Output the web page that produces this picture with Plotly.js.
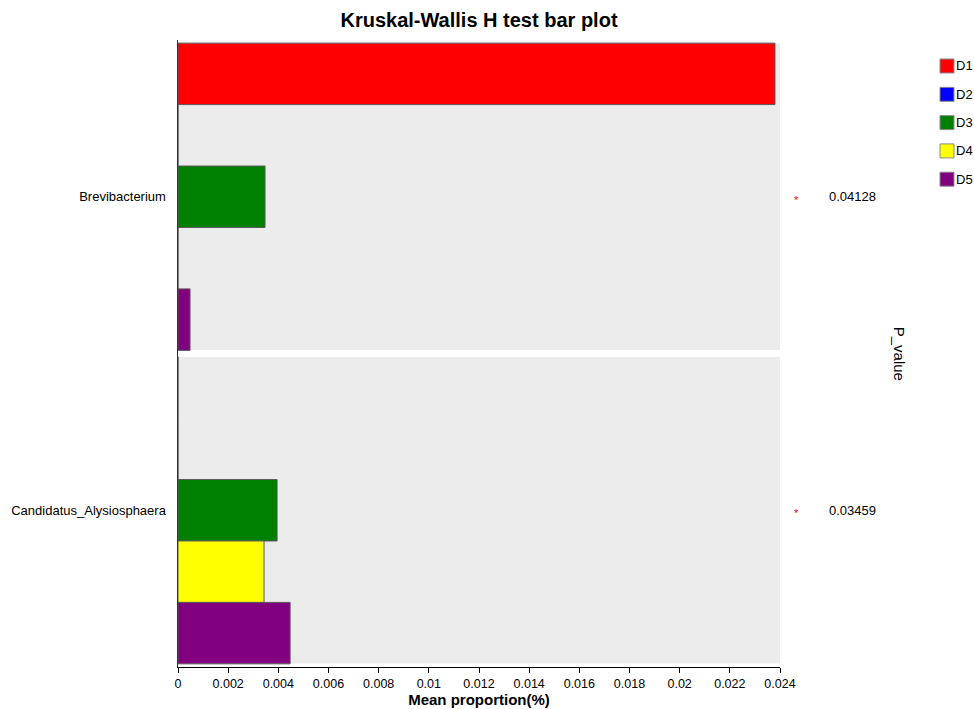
<!DOCTYPE html>
<html>
<head>
<meta charset="utf-8">
<script src="https://cdn.plot.ly/plotly-3.0.1.min.js"></script>
<style>html,body{margin:0;padding:0;background:#fff;}#chart{width:974px;height:709px;}</style>
</head>
<body>
<div id="chart"></div>
<script>
// Genera compared across groups
const taxa = ['Brevibacterium', 'Candidatus_Alysiosphaera'];
const groups = ['D1', 'D2', 'D3', 'D4', 'D5'];
const groupColors = ['#FF0000', '#0000FF', '#008000', '#FFFF00', '#800080'];

// Mean proportion (%) per group, one array per genus
const brevibacterium = [0.0238, 0, 0.00347, 0, 0.00048];
const alysiosphaera = [0, 0, 0.00395, 0.00343, 0.00447];

// Kruskal-Wallis p-values per genus
const pValues = ['0.04128', '0.03459'];
const significance = ['*', '*'];

const xTicks = [0, 0.002, 0.004, 0.006, 0.008, 0.01, 0.012, 0.014, 0.016, 0.018, 0.02, 0.022, 0.024];

const byTaxon = [brevibacterium, alysiosphaera];
const FONT = 'Liberation Sans, Arial, sans-serif';

const traces = groups.map((g, gi) => ({
  type: 'bar',
  orientation: 'h',
  name: g,
  y: taxa,
  x: byTaxon.map(arr => arr[gi]),
  marker: { color: groupColors[gi], line: { color: '#5a5a5a', width: 1 } },
  hoverinfo: 'x+name',
  showlegend: false
}));

// Grey panel behind each genus
const shapes = taxa.map((t, i) => ({
  type: 'rect', layer: 'below',
  xref: 'paper', x0: 0, x1: 1,
  yref: 'y', y0: i - 0.489, y1: i + 0.489,
  fillcolor: '#ECECEC', line: { width: 0 }
}));

const annotations = [];
taxa.forEach((t, i) => {
  annotations.push({
    xref: 'paper', yref: 'y', x: 1.027, y: i, xanchor: 'center', yanchor: 'middle',
    yshift: -3,
    text: significance[i], showarrow: false,
    font: { family: FONT, size: 11, color: '#FF0000' }
  });
  annotations.push({
    xref: 'paper', yref: 'y', x: 1.121, y: i, xanchor: 'center', yanchor: 'middle',
    text: pValues[i], showarrow: false,
    font: { family: FONT, size: 13, color: '#000' }
  });
});
annotations.push({
  xref: 'paper', yref: 'paper', x: 1.199, y: 0.5, xanchor: 'center', yanchor: 'middle',
  text: 'P_value', textangle: 90, showarrow: false,
  font: { family: FONT, size: 15, color: '#000' }
});

// Group key on the right: swatch plus label per group
const plotW = 602, plotH = 627, plotL = 178, plotB = 667;
const keyLeft = 940, keyTop = 66, keyStep = 28.3, swatch = 14;
groups.forEach((g, gi) => {
  const cy = keyTop + gi * keyStep;
  shapes.push({
    type: 'rect', xref: 'paper', yref: 'paper',
    x0: (keyLeft - plotL) / plotW, x1: (keyLeft + swatch - plotL) / plotW,
    y0: (plotB - (cy + swatch / 2)) / plotH, y1: (plotB - (cy - swatch / 2)) / plotH,
    fillcolor: groupColors[gi], line: { color: '#8a8a8a', width: 1 }
  });
  annotations.push({
    xref: 'paper', yref: 'paper',
    x: (keyLeft + swatch - plotL) / plotW, y: (plotB - cy) / plotH,
    xanchor: 'left', yanchor: 'middle', showarrow: false,
    text: g, font: { family: FONT, size: 13, color: '#000' }
  });
});

const layout = {
  width: 974, height: 709,
  margin: { l: 178, r: 194, t: 40, b: 42, autoexpand: false },
  paper_bgcolor: '#fff', plot_bgcolor: '#fff',
  font: { family: FONT, size: 12, color: '#000' },
  title: {
    text: '<b>Kruskal-Wallis H test bar plot</b>',
    x: 0.4918, xanchor: 'center', y: 0.972, yanchor: 'middle',
    font: { size: 20, color: '#000' }
  },
  barmode: 'group', bargap: 0.02, bargroupgap: 0,
  xaxis: {
    range: [0, 0.024], tickvals: xTicks,
    ticks: 'outside', ticklen: 5, tickcolor: '#000',
    showline: true, linecolor: '#000', linewidth: 1,
    showgrid: false, zeroline: false, automargin: false,
    tickfont: { size: 12.5 },
    title: { text: '<b>Mean proportion(%)</b>', font: { size: 15 }, standoff: 3 }
  },
  yaxis: {
    type: 'category', range: [1.5, -0.5],
    showline: true, linecolor: '#333', linewidth: 1.5,
    showgrid: false, zeroline: false, ticks: '', automargin: false,
    ticklabelstandoff: 8,
    tickfont: { size: 13 }
  },
  shapes: shapes,
  annotations: annotations,
  showlegend: false
};

Plotly.newPlot('chart', traces, layout, { displayModeBar: false, staticPlot: true });
</script>
</body>
</html>
